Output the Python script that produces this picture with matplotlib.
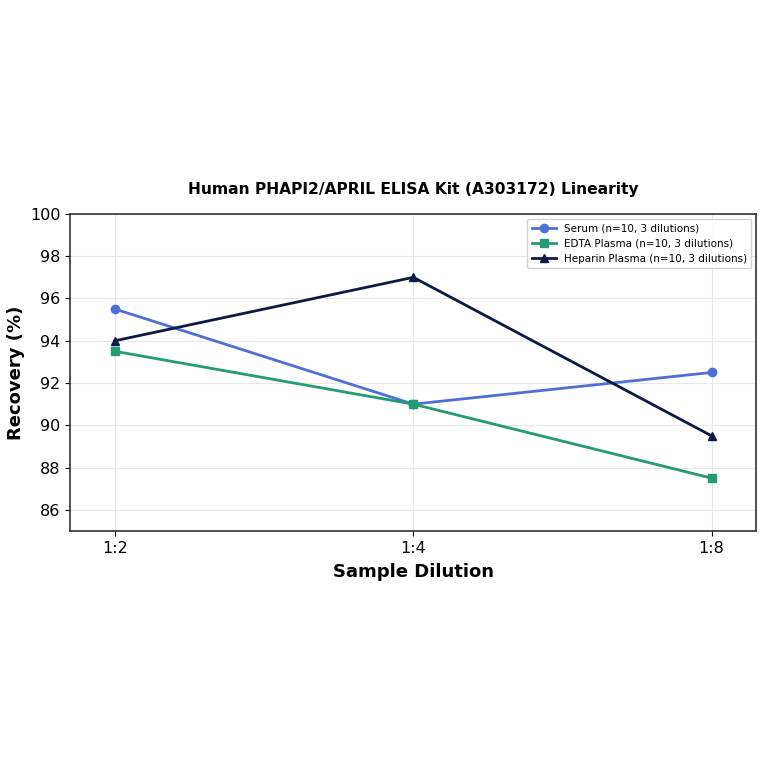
import matplotlib
matplotlib.use("Agg")
import matplotlib.pyplot as plt

dilutions = ["1:2", "1:4", "1:8"]
serum = [95.5, 91.0, 92.5]
edta = [93.5, 91.0, 87.5]
heparin = [94.0, 97.0, 89.5]
labels = ["Serum (n=10, 3 dilutions)", "EDTA Plasma (n=10, 3 dilutions)", "Heparin Plasma (n=10, 3 dilutions)"]
title = "Human PHAPI2/APRIL ELISA Kit (A303172) Linearity"

fig = plt.figure(figsize=(7.64, 7.64), dpi=100)
ax = fig.add_axes([0.092, 0.305, 0.898, 0.415])
x = list(range(len(dilutions)))
ax.plot(x, serum, marker="o", color="#4f6fd8", lw=2, ms=6, label=labels[0])
ax.plot(x, edta, marker="s", color="#239b73", lw=2, ms=6, label=labels[1])
ax.plot(x, heparin, marker="^", color="#0c1a45", lw=2, ms=6, label=labels[2])
ax.set_xticks(x)
ax.set_xticklabels(dilutions)
ax.set_ylim(85, 100)
ax.set_yticks([86, 88, 90, 92, 94, 96, 98, 100])
ax.set_xlim(-0.15, 2.15)
ax.grid(True, color="#e8e8e8", lw=0.8)
ax.set_axisbelow(True)
for s in ax.spines.values():
    s.set_color("#333333")
    s.set_linewidth(1.2)
ax.tick_params(labelsize=11.5)
ax.set_xlabel("Sample Dilution", fontsize=13, fontweight="bold", labelpad=5)
ax.set_ylabel("Recovery (%)", fontsize=13, fontweight="bold")
ax.set_title(title, fontsize=11.2, fontweight="bold", pad=14)
ax.legend(loc="upper right", fontsize=7.5, framealpha=0.9, handlelength=2.3)
fig.savefig("out.png", dpi=100)
